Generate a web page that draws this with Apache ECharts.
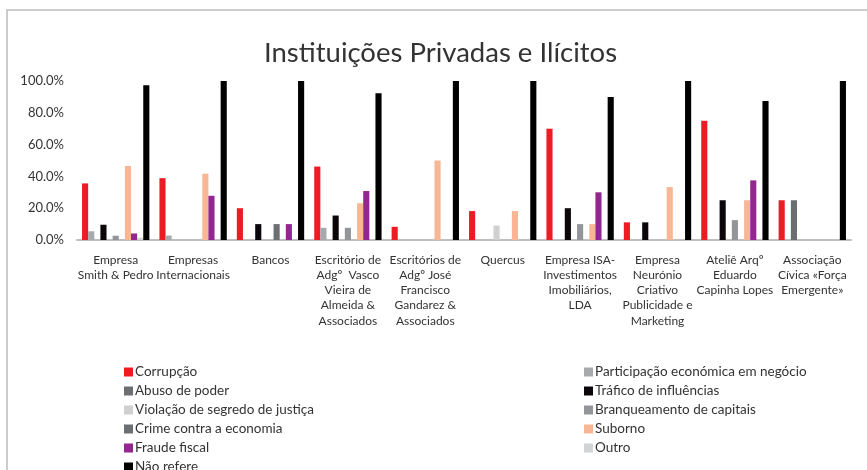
<!DOCTYPE html>
<html lang="pt">
<head>
    <meta charset="UTF-8">
    <title>Instituições Privadas e Ilícitos</title>
    <script src="https://cdn.jsdelivr.net/npm/echarts@6/dist/echarts.min.js"></script>
    <style>
        html, body { margin: 0; padding: 0; background: #fff; }
        #main { width: 867px; height: 470px; }
    </style>
</head>
<body>
    <div id="main"></div>
    <script>
        // categorias (eixo x)
        var categorias = [
            'Empresa\nSmith & Pedro',
            'Empresas\nInternacionais',
            'Bancos',
            'Escritório de\nAdgº  Vasco\nVieira de\nAlmeida &\nAssociados',
            'Escritórios de\nAdgº José\nFrancisco\nGandarez &\nAssociados',
            'Quercus',
            'Empresa ISA-\nInvestimentos\nImobiliários,\nLDA',
            'Empresa\nNeurónio\nCriativo\nPublicidade e\nMarketing',
            'Ateliê Arqº\nEduardo\nCapinha Lopes',
            'Associação\nCívica «Força\nEmergente»'
        ];

        // valores (%) por ilícito
        var corrupcao      = [35.6, 38.9, 20, 46.2, 8.3, 18.2, 70, 11.1, 75, 25];
        var participacao   = [5.5, 2.8, 0, 7.7, 0, 0, 0, 0, 0, 0];
        var abusoPoder     = [0, 0, 0, 0, 0, 0, 0, 0, 0, 25];
        var trafico        = [9.6, 0, 10, 15.4, 0, 0, 20, 11.1, 25, 0];
        var violacao       = [0, 0, 0, 0, 0, 9.1, 0, 0, 0, 0];
        var branqueamento  = [2.7, 0, 0, 7.7, 0, 0, 10, 0, 12.5, 0];
        var crimeEconomia  = [0, 0, 10, 0, 0, 0, 0, 0, 0, 0];
        var suborno        = [46.6, 41.7, 0, 23.1, 50, 18.2, 10, 33.3, 25, 0];
        var fraudeFiscal   = [4.1, 27.8, 10, 30.8, 0, 0, 30, 0, 37.5, 0];
        var outro          = [1.4, 0, 0, 0, 0, 0, 0, 0, 0, 0];
        var naoRefere      = [97.3, 100, 100, 92.3, 100, 100, 90, 100, 87.5, 100];

        var nomes = [
            'Corrupção', 'Participação económica em negócio', 'Abuso de poder',
            'Tráfico de influências', 'Violação de segredo de justiça',
            'Branqueamento de capitais', 'Crime contra a economia', 'Suborno',
            'Fraude fiscal', 'Outro', 'Não refere'
        ];
        var valores = [corrupcao, participacao, abusoPoder, trafico, violacao,
            branqueamento, crimeEconomia, suborno, fraudeFiscal, outro, naoRefere];
        var cores = ['#ED1C24', '#A7A9AC', '#6D6E71', '#0B0609', '#D0D0D0',
            '#939598', '#6D6E71', '#F7B795', '#92278F', '#D1D3D4', '#000000'];

        var fonte = 'Lato, "Open Sans", sans-serif';

        var chart = echarts.init(document.getElementById('main'));

        var series = nomes.map(function (n, i) {
            return {
                name: n,
                type: 'bar',
                data: valores[i],
                barGap: '0%',
                barCategoryGap: '13%',
                itemStyle: { color: cores[i] }
            };
        });

        // duas colunas de legenda, como no original
        function legenda(paridade, esquerda) {
            return {
                data: nomes.filter(function (n, i) { return i % 2 === paridade; }),
                orient: 'vertical',
                left: esquerda,
                top: 360,
                height: 160,
                itemWidth: 9,
                itemHeight: 9,
                itemGap: 5,
                icon: 'rect',
                textStyle: { fontSize: 13.5, color: '#333', padding: [0, 0, 0, -3] }
            };
        }

        var option = {
            animation: false,
            color: cores,
            textStyle: { fontFamily: fonte },
            graphic: [{
                type: 'rect',
                shape: { x: 7, y: 10, width: 900, height: 500 },
                style: { fill: 'none', stroke: '#CCCCCC', lineWidth: 2 },
                silent: true
            }],
            title: {
                text: 'Instituições Privadas e Ilícitos',
                left: 259,
                top: 34,
                textStyle: { fontSize: 27.5, fontWeight: 'normal', color: '#333', fontFamily: fonte }
            },
            legend: [legenda(0, 119), legenda(1, 579)],
            grid: { left: 77, right: 16, top: 81, bottom: 230 },
            xAxis: {
                type: 'category',
                data: categorias,
                axisLine: { lineStyle: { color: '#BFBFBF', width: 2 } },
                axisTick: { show: false },
                axisLabel: {
                    interval: 0,
                    color: '#333',
                    fontSize: 12,
                    lineHeight: 15.3,
                    margin: 12
                }
            },
            yAxis: {
                type: 'value',
                min: 0,
                max: 100,
                interval: 20,
                splitLine: { show: false },
                axisLine: { show: false },
                axisTick: { show: false },
                axisLabel: {
                    color: '#333',
                    fontSize: 13,
                    margin: 13,
                    formatter: function (v) { return v.toFixed(1) + '%'; }
                }
            },
            series: series
        };

        chart.setOption(option);
    </script>
</body>
</html>
